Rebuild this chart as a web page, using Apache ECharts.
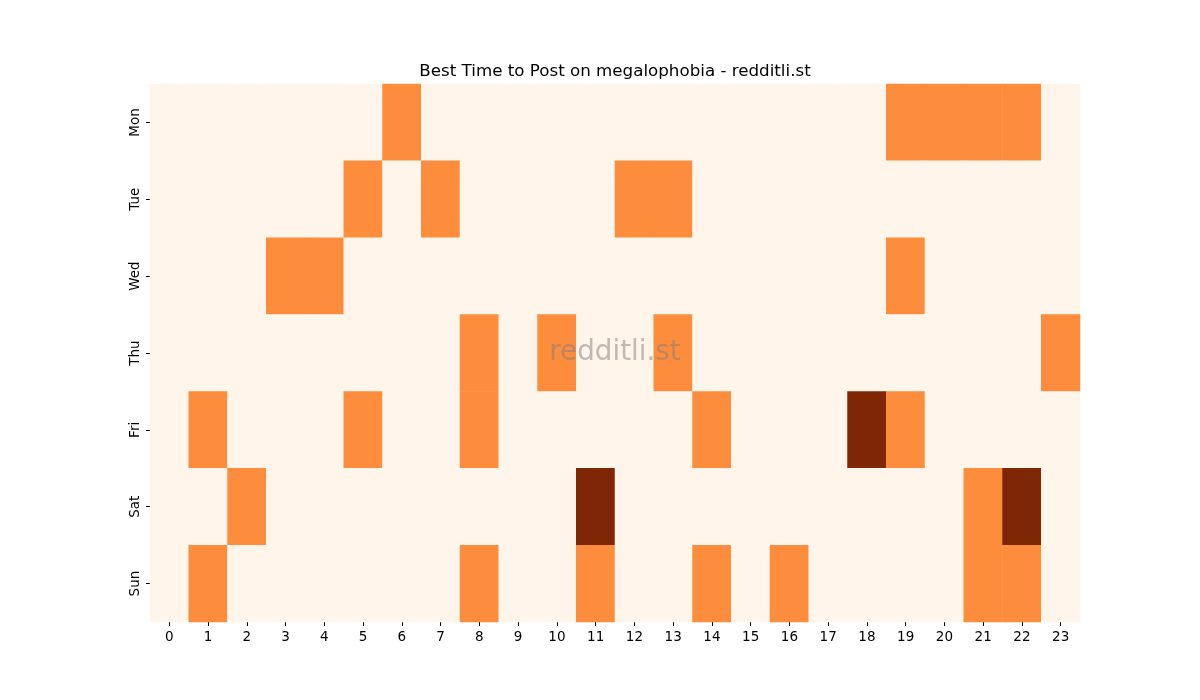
<!DOCTYPE html>
<html>
<head>
<meta charset="utf-8">
<script src="https://cdn.jsdelivr.net/npm/echarts@6/dist/echarts.min.js"></script>
<style>html,body{margin:0;padding:0;background:#fff;}#chart{width:1200px;height:700px;}</style>
</head>
<body>
<div id="chart"></div>
<script>
const hours = ['0','1','2','3','4','5','6','7','8','9','10','11','12','13','14','15','16','17','18','19','20','21','22','23'];
const days = ['Mon','Tue','Wed','Thu','Fri','Sat','Sun'];
const mon = [0,0,0,0,0,0,1,0,0,0,0,0,0,0,0,0,0,0,0,1,1,1,1,0];
const tue = [0,0,0,0,0,1,0,1,0,0,0,0,1,1,0,0,0,0,0,0,0,0,0,0];
const wed = [0,0,0,1,1,0,0,0,0,0,0,0,0,0,0,0,0,0,0,1,0,0,0,0];
const thu = [0,0,0,0,0,0,0,0,1,0,1,0,0,1,0,0,0,0,0,0,0,0,0,1];
const fri = [0,1,0,0,0,1,0,0,1,0,0,0,0,0,1,0,0,0,2,1,0,0,0,0];
const sat = [0,0,1,0,0,0,0,0,0,0,0,2,0,0,0,0,0,0,0,0,0,1,2,0];
const sun = [0,1,0,0,0,0,0,0,1,0,0,1,0,0,1,0,1,0,0,0,0,1,1,0];
const rows = [mon, tue, wed, thu, fri, sat, sun];

const data = [];
rows.forEach((r, d) => r.forEach((v, h) => data.push([h, d, v])));

const chart = echarts.init(document.getElementById('chart'));
const font = 'DejaVu Sans';
chart.setOption({
  animation: false,
  title: {
    text: 'Best Time to Post on megalophobia - redditli.st',
    left: 610, top: 58, textAlign: 'center',
    textStyle: {fontFamily: font, fontSize: 16.7, fontWeight: 'normal', color: '#000'}
  },
  grid: {left: 150, right: 120, top: 84, bottom: 78},
  xAxis: {
    type: 'category', data: hours,
    axisLine: {show: false},
    axisTick: {show: true, alignWithLabel: true, length: 4, lineStyle: {color: '#000'}},
    axisLabel: {fontFamily: font, fontSize: 13.5, color: '#000', margin: 8, interval: 0},
    splitLine: {show: false}
  },
  yAxis: {
    type: 'category', data: days, inverse: true,
    axisLine: {show: false},
    axisTick: {show: true, alignWithLabel: true, length: 4, lineStyle: {color: '#000'}},
    axisLabel: {fontFamily: font, fontSize: 13.5, color: '#000', rotate: 90, margin: 8},
    splitLine: {show: false}
  },
  visualMap: {
    show: false, min: 0, max: 2, dimension: 2,
    inRange: {color: ['#fff5eb', '#fd8d3c', '#7f2704']}
  },
  series: [{
    type: 'heatmap', data: data,
    itemStyle: {borderWidth: 0},
    emphasis: {disabled: true}
  }],
  graphic: [{
    type: 'text', z: 100,
    style: {text: 'redditli.st', x: 615, y: 353, align: 'center', verticalAlign: 'middle',
      fontFamily: font, fontSize: 27.8, fill: 'rgba(128,128,128,0.5)'}
  }]
});
</script>
</body>
</html>
